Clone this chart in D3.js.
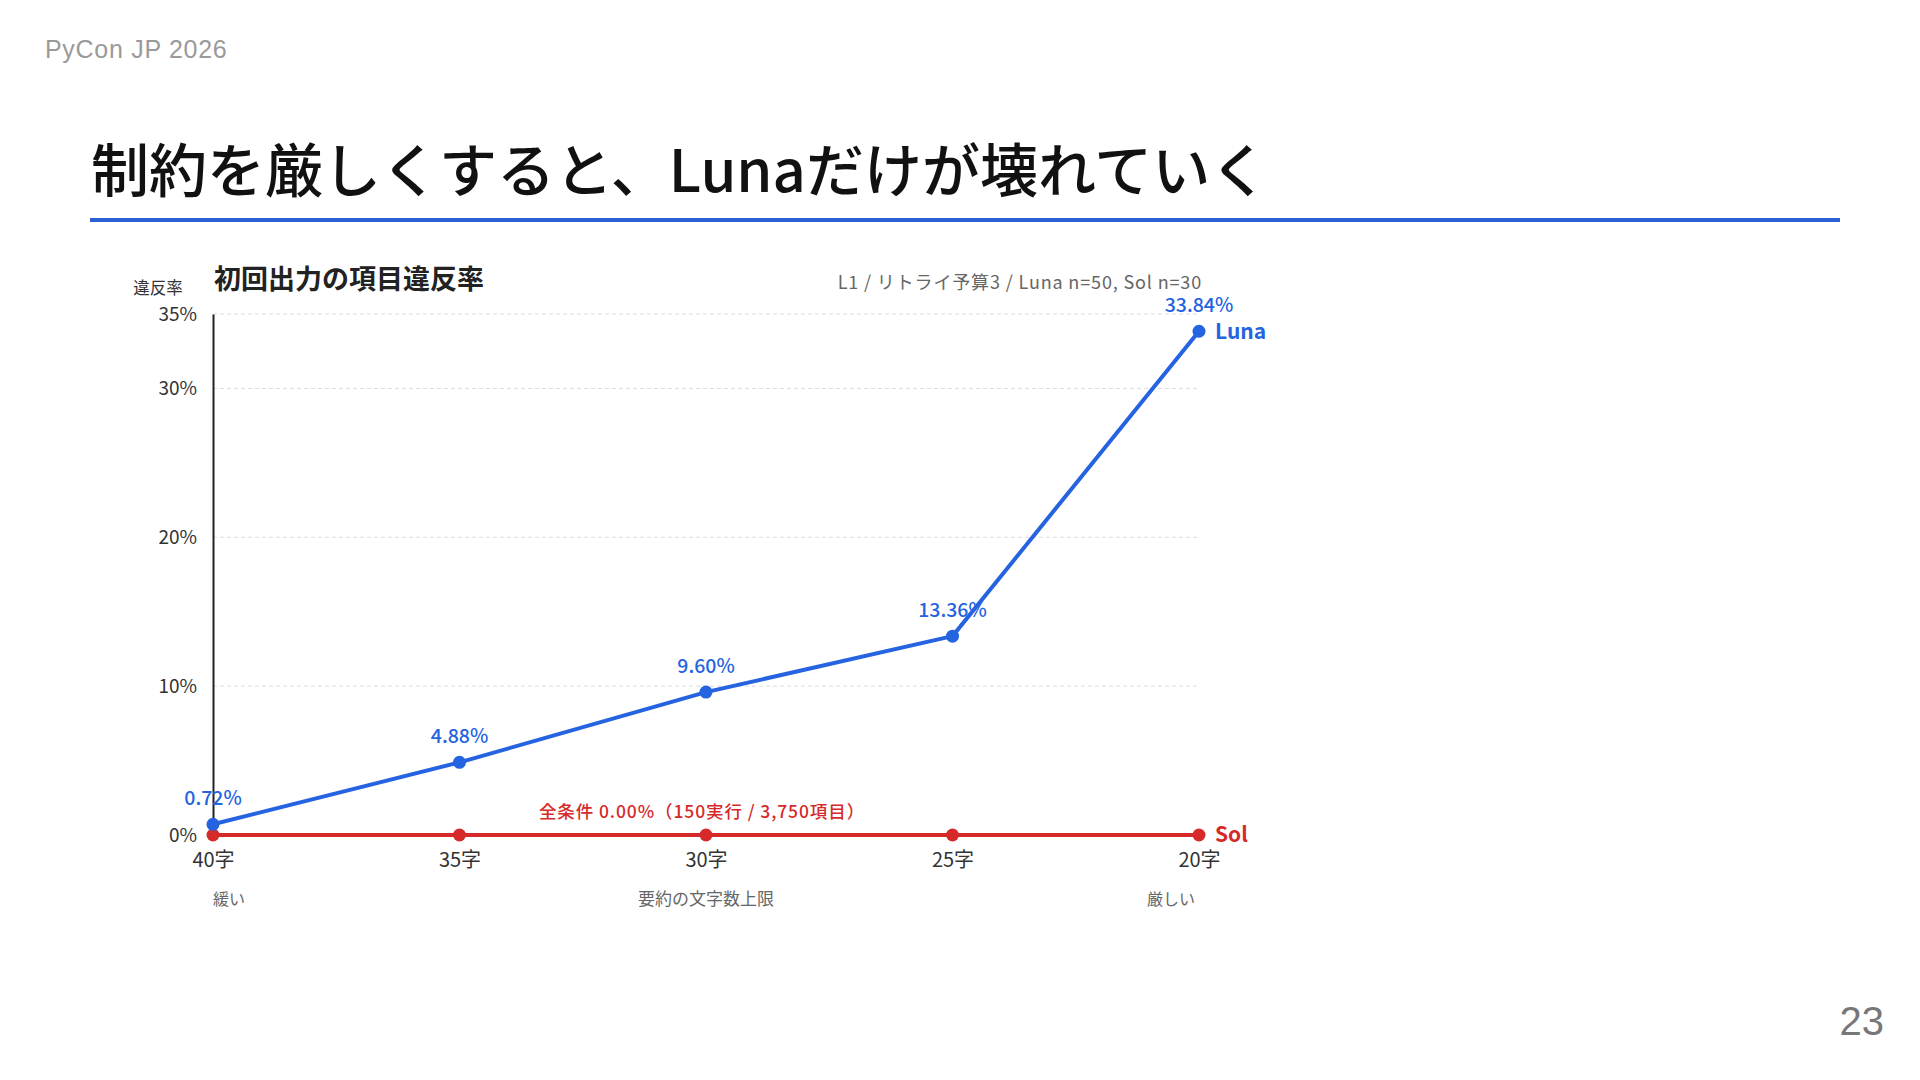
<!DOCTYPE html>
<html>
<head>
<meta charset="utf-8">
<script src="https://cdn.jsdelivr.net/npm/d3@7/dist/d3.min.js"></script>
<style>
  html, body { margin: 0; padding: 0; background: #fff; }
  svg { display: block; font-family: "Noto Sans CJK JP", "Noto Sans", sans-serif; }
</style>
</head>
<body>
<svg id="slide" width="1920" height="1080"></svg>
<script>
  // ── data ──
  const categories = ["40字", "35字", "30字", "25字", "20字"];
  const lunaValues = [0.72, 4.88, 9.60, 13.36, 33.84];
  const solValues = [0, 0, 0, 0, 0];
  const yTicks = [0, 10, 20, 30, 35];
  const gridTicks = [10, 20, 30, 35];

  const BLUE = "#2563e0",
    RED = "#d62a2a";

  const svg = d3.select("#slide");

  /* ── slide chrome ── */
  svg.append("text")
    .attr("x", 45).attr("y", 58)
    .attr("font-family", "'Liberation Sans', Arial, sans-serif")
    .attr("font-size", 25).attr("letter-spacing", 0.7).attr("fill", "#9a9a9a")
    .text("PyCon JP 2026");

  svg.append("text")
    .attr("x", 91).attr("y", 192)
    .attr("font-size", 58).attr("font-weight", 500).attr("fill", "#111")
    .text("制約を厳しくすると、Lunaだけが壊れていく");

  svg.append("rect")
    .attr("x", 90).attr("y", 218).attr("width", 1750).attr("height", 4)
    .attr("fill", "#2a62d6");

  svg.append("text")
    .attr("x", 1884).attr("y", 1035).attr("text-anchor", "end")
    .attr("font-family", "'Liberation Sans', Arial, sans-serif")
    .attr("font-size", 40).attr("fill", "#777")
    .text("23");

  /* ── chart ── */
  const x = d3.scalePoint().domain(categories).range([213, 1199]);
  const y = d3.scaleLinear().domain([0, 35]).range([835, 314]);

  svg.append("text")
    .attr("x", 214).attr("y", 289)
    .attr("font-size", 27).attr("font-weight", 700).attr("fill", "#222")
    .text("初回出力の項目違反率");

  svg.append("text")
    .attr("x", 1202).attr("y", 289).attr("text-anchor", "end")
    .attr("font-size", 18).attr("letter-spacing", 0.85).attr("fill", "#666")
    .text("L1 / リトライ予算3 / Luna n=50, Sol n=30");

  svg.append("text")
    .attr("x", 158).attr("y", 294).attr("text-anchor", "middle")
    .attr("font-size", 16.5).attr("fill", "#333")
    .text("違反率");

  // gridlines
  svg.append("g")
    .selectAll("line")
    .data(gridTicks)
    .join("line")
    .attr("x1", x(categories[0])).attr("x2", x(categories[categories.length - 1]))
    .attr("y1", (d) => y(d)).attr("y2", (d) => y(d))
    .attr("stroke", "#dcdcdc").attr("stroke-width", 1).attr("stroke-dasharray", "4,3");

  // y axis
  const yAxis = svg.append("g")
    .attr("transform", `translate(${x(categories[0])},0)`)
    .call(d3.axisLeft(y).tickValues(yTicks).tickFormat((d) => d + "%").tickSize(0).tickPadding(16));
  yAxis.select(".domain").attr("stroke", "#222").attr("stroke-width", 2);
  yAxis.selectAll("text")
    .attr("font-family", "'Noto Sans CJK JP', sans-serif")
    .attr("font-size", 19).attr("fill", "#333");

  // x axis labels
  const xAxis = svg.append("g")
    .attr("transform", `translate(0,${y(0)})`)
    .call(d3.axisBottom(x).tickSize(0).tickPadding(18));
  xAxis.select(".domain").remove();
  xAxis.selectAll("text")
    .attr("font-family", "'Noto Sans CJK JP', sans-serif")
    .attr("font-size", 20).attr("fill", "#333");

  svg.append("text")
    .attr("x", x(categories[0])).attr("y", 905)
    .attr("font-size", 16).attr("fill", "#666").text("緩い");
  svg.append("text")
    .attr("x", x(categories[2])).attr("y", 905).attr("text-anchor", "middle")
    .attr("font-size", 17).attr("fill", "#666").text("要約の文字数上限");
  svg.append("text")
    .attr("x", x(categories[4]) - 4).attr("y", 905).attr("text-anchor", "end")
    .attr("font-size", 16).attr("fill", "#666").text("厳しい");

  const line = d3.line()
    .x((d, i) => x(categories[i]))
    .y((d) => y(d));

  // Sol
  svg.append("path")
    .datum(solValues)
    .attr("d", line)
    .attr("fill", "none").attr("stroke", RED).attr("stroke-width", 4);
  svg.append("g")
    .selectAll("circle")
    .data(solValues)
    .join("circle")
    .attr("cx", (d, i) => x(categories[i])).attr("cy", (d) => y(d))
    .attr("r", 6.5).attr("fill", RED);

  svg.append("text")
    .attr("x", x(categories[2]) - 4).attr("y", 818).attr("text-anchor", "middle")
    .attr("font-size", 17.5).attr("letter-spacing", 0.9).attr("font-weight", 500).attr("fill", RED)
    .text("全条件 0.00%（150実行 / 3,750項目）");

  // Luna
  svg.append("path")
    .datum(lunaValues)
    .attr("d", line)
    .attr("fill", "none").attr("stroke", BLUE).attr("stroke-width", 4)
    .attr("stroke-linejoin", "round");
  svg.append("g")
    .selectAll("circle")
    .data(lunaValues)
    .join("circle")
    .attr("cx", (d, i) => x(categories[i])).attr("cy", (d) => y(d))
    .attr("r", 6.5).attr("fill", BLUE);

  svg.append("g")
    .selectAll("text")
    .data(lunaValues)
    .join("text")
    .attr("x", (d, i) => x(categories[i])).attr("y", (d) => y(d) - 19)
    .attr("text-anchor", "middle")
    .attr("font-size", 19.5).attr("font-weight", 500).attr("fill", BLUE)
    .text((d) => d.toFixed(2) + "%");

  // series labels
  svg.append("text")
    .attr("x", x(categories[4]) + 16).attr("y", y(lunaValues[4])).attr("dy", "0.35em")
    .attr("font-size", 21).attr("font-weight", 700).attr("fill", BLUE)
    .text("Luna");
  svg.append("text")
    .attr("x", x(categories[4]) + 16).attr("y", y(solValues[4])).attr("dy", "0.35em")
    .attr("font-size", 21).attr("font-weight", 700).attr("fill", RED)
    .text("Sol");
</script>
</body>
</html>
